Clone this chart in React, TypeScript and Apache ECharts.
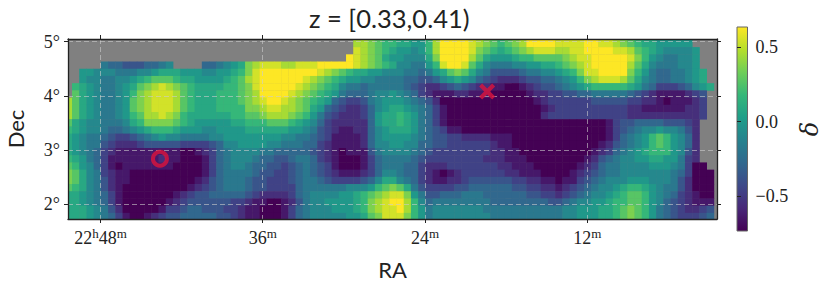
import React, { useEffect, useRef } from "react";
import * as echarts from "echarts";

// delta map, one string per Dec row from north to south, one hex level per RA cell from east to west; "." = no data
const deltaRows = [
  "..... ..... ..... ..... ..... ..... ..... ..... .dcba a 9988a dffff edcba bcdff ffeee effee dcba9 98888 8....",
  "..... ..... ..... ..... ..... ..... ..... ..... ddcba a 9988a dffff edcba bcdff ffeee effee dcba9 98888 8....",
  "..... ..... ..... ..... ..... ..... ..... ..... edcba 9 8878a dffff ecba9 abcde eedde effff eedba 98777 78...",
  "..... ..... ..... ..... ..... ..... ..... ....f edcb9 8 87779 cffff db988 89aab bbbcd eefff ffeca 87667 78...",
  "..... 65544 45567 ....5 56789 cdeee ddeee fffff edcba 9 77668 aeffe b9766 67788 99abc defff ffdb9 76667 78...",
  "..887 77666 77899 98887 7889a cefff fffff edcba 99887 7 76656 89bcb 97644 44566 7789a ceeff ffca8 65566 789..",
  "..877 66778 9abbb a9988 889ab defff fffed cba98 87766 6 65544 57898 75432 22344 55678 acdee edb97 65566 789..",
  ".a987 66789 bcded cba99 99aab cefff ffedc ba976 65666 6 65432 23454 32211 00123 44567 89aaa aa986 53334 5789.",
  ".b987 6678a cdeee dba99 9aaab cdfff fedcb a9865 55677 8 76532 11122 11100 00012 23344 55666 66543 21111 234..",
  "db987 6678b cdeee dba99 9aaab cdeff edcba 98543 34678 8 87654 20000 00000 00001 23333 33444 44332 21011 123..",
  "db987 6678b cdeee dba99 9aaaa ccdee ddcb9 85432 23578 9 98765 31000 00000 00000 12333 33333 33221 11111 223..",
  "db987 6678a bdded ca999 999aa bbcdd dcba8 64322 23589 9 a9865 31000 00000 00000 23333 33333 33222 22222 223..",
  "b9877 66679 acccc ba988 88899 aaabb ba987 53222 22589 9 a9865 31000 00000 00000 00000 00001 34455 55444 32...",
  "a9877 65567 89aaa 98887 78888 99999 98876 43211 22578 9 99865 43110 00000 00000 00000 00001 34567 78776 42...",
  "98766 54334 56787 76666 77888 88888 77665 43111 12578 8 88765 44332 22211 10000 00000 00001 35678 aba87 52...",
  "98766 43222 34444 43333 45778 88877 66655 32111 12577 8 87755 44333 33321 10000 00000 00012 45678 aba87 52...",
  "98765 32111 11111 10012 35677 77665 55554 32101 11467 7 77654 33333 33322 11000 00000 00123 56789 aaa87 42...",
  "a9865 31111 11121 10001 35677 76554 45665 32100 01356 6 66543 33333 33222 11100 00000 01245 67788 99886 32...",
  "ba875 31011 11111 00001 35677 65544 34565 43100 01356 6 65532 22333 33332 21110 00000 12356 67777 88876 300..",
  "cb976 32110 00000 00001 35666 65443 34565 43211 12357 7 65532 10123 33333 22111 00001 23456 67777 77765 3000.",
  "cb976 42110 00000 00012 45666 54433 34566 54333 34579 9 76532 11223 44444 43322 11011 34567 77888 77764 2000.",
  "ba976 42100 00000 00123 45666 54433 33566 66667 778ab c b9643 33344 55555 54433 22123 45677 89aa9 87664 2000.",
  "99876 53100 00000 12344 55555 43222 23567 77788 9abcd e ec864 45556 66555 55544 33234 56778 9abba 87653 2100.",
  "99876 53100 00001 23444 44433 21100 12467 78888 9acde f fda75 66666 66655 55555 54456 77889 aabba 87543 2111.",
  "99987 64200 00013 34554 44332 11000 13567 77888 9acde e fda86 77777 77666 66666 66677 88899 abcba 86543 2234.",
  "99987 65310 01234 45555 54432 11000 13567 77778 89bce e eca86 77777 77766 66666 66677 88899 abcba 86543 3345.",
];
const deltaMin = -0.737;
const deltaMax = 0.637;
const levelCount = 15;

// Cell centres: RA in minutes after 22h, Dec in degrees
const firstRa = 50.37;
const raStep = 8 / 15;
const firstDec = 5.1;
const decStep = 8 / 60;

const raLimits = [2.4, 50.4];
const decLimits = [1.72, 5.05];
const raTicks = [48, 36, 24, 12];
const decTicks = [2, 3, 4, 5];
const cbarTicks = [-0.5, 0, 0.5];

const circleMarker = [43.6, 2.835];
const crossMarker = [19.4, 4.08];

const viridis = ["#440154", "#482878", "#3e4989", "#31688e", "#26828e", "#1f9e89", "#35b779", "#6ece58", "#b5de2b", "#fde725"];

const TITLE = "z = [0.33,0.41)";
const SANS = "Lato, 'Open Sans', sans-serif";
const SERIF = "'Liberation Serif', serif";

function buildCells() {
  const out: number[][] = [];
  deltaRows.forEach((row, r) => {
    row.replace(/ /g, "").split("").forEach((ch, c) => {
      if (ch === ".") return;
      out.push([
        firstRa - c * raStep,
        firstDec - r * decStep,
        deltaMin + (parseInt(ch, 16) / levelCount) * (deltaMax - deltaMin),
      ]);
    });
  });
  return out;
}

const raLabel = (v: number) =>
  v === 48 ? "{n|22}{s|h}{n|48}{s|m}" : `{n|${v}}{s|m}`;

const richText = {
  n: { fontFamily: SERIF, fontSize: 18, color: "#222", verticalAlign: "bottom", lineHeight: 20 },
  s: { fontFamily: SERIF, fontSize: 13, color: "#222", verticalAlign: "top", lineHeight: 20, padding: [0, 0, 6, 0] },
};

export default function App() {
  const ref = useRef<HTMLDivElement>(null);
  useEffect(() => {
    const chart = echarts.init(ref.current!, undefined, { renderer: "svg" });
    const axisLine = { show: true, onZero: false, lineStyle: { color: "#222", width: 1.3 } };
    const split = { show: true, lineStyle: { color: "rgba(205,205,205,0.6)", type: [5, 3] as any, width: 1 } };
    const tick = (vals: number[]) => ({ show: true, customValues: vals, length: 4, inside: false, lineStyle: { color: "#222", width: 1 } });
    chart.setOption({
      animation: false,
      backgroundColor: "#fff",
      title: {
        text: TITLE,
        left: 309,
        top: 5,
        padding: 0,
        textStyle: { fontFamily: SANS, fontSize: 25.5, fontWeight: "normal", color: "#222" },
      },
      grid: [
        { left: 68, top: 39, width: 649, height: 180, show: true, backgroundColor: "#808080", borderWidth: 0, outerBoundsMode: "none" },
        { left: 737, top: 27, width: 10.5, height: 204, show: false, outerBoundsMode: "none" },
      ],
      xAxis: [
        {
          type: "value", gridIndex: 0, min: raLimits[0], max: raLimits[1], inverse: true, position: "bottom", z: 5,
          axisLine, splitLine: split, axisTick: tick(raTicks),
          axisLabel: { show: true, customValues: raTicks, margin: 8, formatter: raLabel, rich: richText },
          name: "RA", nameLocation: "middle", nameGap: 39,
          nameTextStyle: { fontFamily: SANS, fontSize: 22, color: "#222" },
        },
        {
          type: "value", gridIndex: 0, min: raLimits[0], max: raLimits[1], inverse: true, position: "top", z: 5,
          axisLine, splitLine: { show: false }, axisTick: tick(raTicks), axisLabel: { show: false },
        },
        { type: "value", gridIndex: 1, min: 0, max: 1, show: false },
      ],
      yAxis: [
        {
          type: "value", gridIndex: 0, min: decLimits[0], max: decLimits[1], position: "left", z: 5,
          axisLine, splitLine: split, axisTick: tick(decTicks),
          axisLabel: {
            show: true, customValues: decTicks, margin: 8, formatter: (v: number) => `${v}°`,
            fontFamily: SERIF, fontSize: 18, color: "#222",
          },
          name: "Dec", nameLocation: "middle", nameGap: 42, nameRotate: 90,
          nameTextStyle: { fontFamily: SANS, fontSize: 22, color: "#222" },
        },
        {
          type: "value", gridIndex: 0, min: decLimits[0], max: decLimits[1], position: "right", z: 5,
          axisLine, splitLine: { show: false }, axisTick: tick(decTicks), axisLabel: { show: false },
        },
        {
          type: "value", gridIndex: 1, min: deltaMin, max: deltaMax, position: "right", z: 5,
          axisLine: { show: false }, splitLine: { show: false },
          axisTick: tick(cbarTicks),
          axisLabel: {
            show: true, customValues: cbarTicks, margin: 8,
            formatter: (v: number) => (v < 0 ? `\u2212${Math.abs(v).toFixed(1)}` : v.toFixed(1)),
            fontFamily: SERIF, fontSize: 18, color: "#222",
          },
          name: "δ", nameLocation: "middle", nameGap: 50, nameRotate: 90,
          nameTextStyle: { fontFamily: "'DejaVu Serif', serif", fontStyle: "italic", fontSize: 24, color: "#222" },
        },
      ],
      visualMap: {
        type: "continuous", show: false, seriesIndex: 0, dimension: 2,
        min: deltaMin, max: deltaMax, inRange: { color: viridis },
      },
      graphic: [
        {
          type: "rect",
          z: 1,
          shape: { x: 737, y: 27, width: 10.5, height: 204 },
          style: {
            fill: new echarts.graphic.LinearGradient(0, 1, 0, 0,
              viridis.map((color, i) => ({ offset: i / (viridis.length - 1), color }))),
            stroke: "#666",
            lineWidth: 1,
          },
        },
      ],
      series: [
        {
          type: "custom",
          xAxisIndex: 0,
          yAxisIndex: 0,
          z: 2,
          clip: true,
          encode: { x: 0, y: 1 },
          data: buildCells(),
          renderItem: (params: any, api: any) => {
            const centre = api.coord([api.value(0), api.value(1)]);
            const size = api.size([raStep, decStep]);
            const shape = echarts.graphic.clipRectByRect(
              { x: centre[0] - size[0] / 2, y: centre[1] - size[1] / 2, width: size[0] + 0.4, height: size[1] + 0.4 },
              { x: params.coordSys.x, y: params.coordSys.y, width: params.coordSys.width, height: params.coordSys.height },
            );
            return shape && { type: "rect", shape, style: { fill: api.visual("color") } };
          },
        },
        {
          type: "scatter", xAxisIndex: 0, yAxisIndex: 0, z: 10, silent: true,
          symbol: "circle", symbolSize: 14,
          itemStyle: { color: "rgba(0,0,0,0)", borderColor: "#dc143c", borderWidth: 4 },
          data: [circleMarker],
        },
        {
          type: "scatter", xAxisIndex: 0, yAxisIndex: 0, z: 10, silent: true,
          symbol: "path://M0 3L3 0L8 5L13 0L16 3L11 8L16 13L13 16L8 11L3 16L0 13L5 8Z", symbolSize: 16,
          itemStyle: { color: "#dc143c" },
          data: [crossMarker],
        },
      ],
    });
    return () => chart.dispose();
  }, []);
  return <div ref={ref} style={{ position: "absolute", left: 0, top: 0, width: 831, height: 291, background: "#fff" }} />;
}
